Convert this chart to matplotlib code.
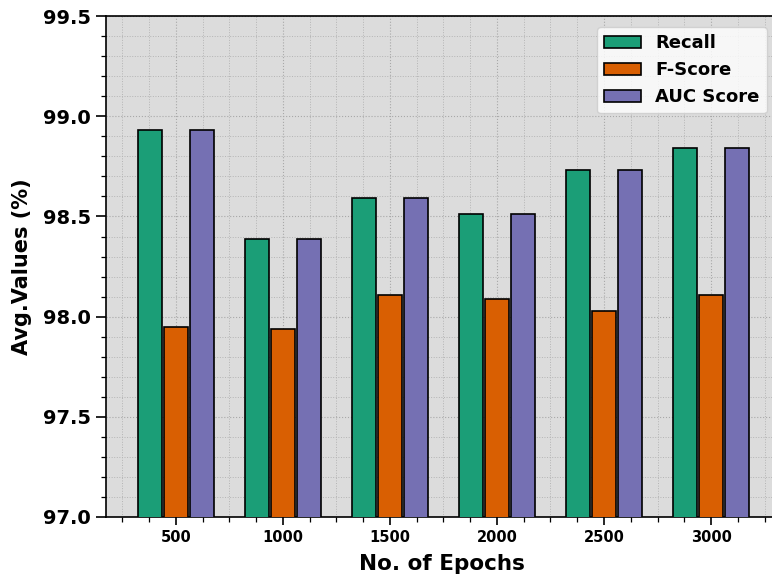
import matplotlib
matplotlib.use('Agg')
import matplotlib.pyplot as plt
import numpy as np
from matplotlib.ticker import MultipleLocator

epochs = ['500', '1000', '1500', '2000', '2500', '3000']
recall = [98.93, 98.39, 98.59, 98.51, 98.73, 98.84]
f_score = [97.95, 97.94, 98.11, 98.09, 98.03, 98.11]
auc_score = [98.93, 98.39, 98.59, 98.51, 98.73, 98.84]

colors = ['#1b9e77', '#d95f02', '#7570b3']

fig = plt.figure(figsize=(7.72, 5.77), dpi=100)
# axes runs a little past the right edge of the canvas
ax = fig.add_axes([0.137, 0.104, 0.87, 0.868])
ax.set_facecolor('#dcdcdc')

x = np.arange(len(epochs))
w = 0.225
off = 0.245
ax.bar(x - off, recall, w, color=colors[0], edgecolor='black', linewidth=1.2, label='Recall', zorder=3)
ax.bar(x, f_score, w, color=colors[1], edgecolor='black', linewidth=1.2, label='F-Score', zorder=3)
ax.bar(x + off, auc_score, w, color=colors[2], edgecolor='black', linewidth=1.2, label='AUC Score', zorder=3)

ax.set_ylim(97.0, 99.5)
ax.set_xlim(-0.654, 5.62)
ax.yaxis.set_major_locator(MultipleLocator(0.5))
ax.yaxis.set_minor_locator(MultipleLocator(0.1))
ax.set_xticks(x)
ax.set_xticklabels(epochs)
ax.xaxis.set_minor_locator(MultipleLocator(0.25))

ax.grid(which='major', linestyle=':', color='#a8a8a8', linewidth=0.8, zorder=0)
ax.grid(which='minor', linestyle=':', color='#b4b4b4', linewidth=0.7, zorder=0)
ax.set_axisbelow(True)

ax.tick_params(axis='y', which='major', labelsize=14, length=7, width=1.2)
ax.tick_params(axis='x', which='major', labelsize=10.5, length=6, width=1.2)
ax.tick_params(which='minor', length=3.5, width=0.9)
for lab in ax.get_xticklabels() + ax.get_yticklabels():
    lab.set_fontweight('bold')

ax.set_xlabel('No. of Epochs', fontsize=15.5, fontweight='bold', labelpad=6)
ax.set_ylabel('Avg.Values (%)', fontsize=15, fontweight='bold', labelpad=8)

for s in ax.spines.values():
    s.set_linewidth(1.2)

ax.legend(loc='upper right', prop={'weight': 'bold', 'size': 13},
          frameon=True, framealpha=0.8, handlelength=2.0, borderaxespad=0.6)

fig.savefig('out.png', dpi=100)
